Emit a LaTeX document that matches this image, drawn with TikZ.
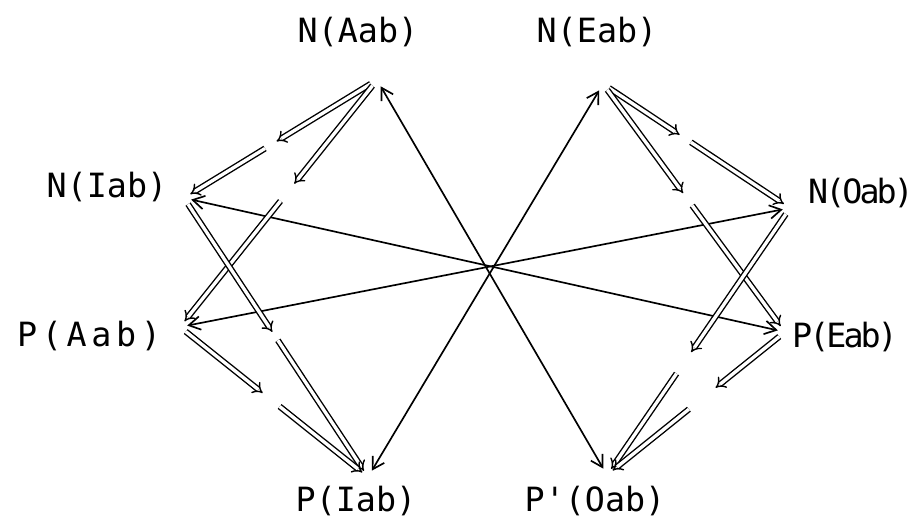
\documentclass[tikz,border=0pt]{standalone}
\usepackage{fontspec}
\newfontfamily\plotfont{DejaVu Sans Mono}
\newfontfamily\plottight[LetterSpace=-9]{DejaVu Sans Mono}
\newfontfamily\plotwide[LetterSpace=14]{DejaVu Sans Mono}
\usepackage{tikz}
\usetikzlibrary{arrows.meta,calc}
\tikzset{
  lbl/.style={inner sep=0pt, font=\plotfont\fontsize{19}{23}\selectfont},
  lbltight/.style={lbl, font=\plottight\fontsize{19}{23}\selectfont},
  lblwide/.style={lbl, font=\plotwide\fontsize{19}{23}\selectfont},
  hub/.style={circle, inner sep=0pt, minimum size=0.28cm},
  contra/.style={{Straight Barb[length=2.3mm,width=2.7mm]}-{Straight Barb[length=2.3mm,width=2.7mm]}, line width=0.95pt},
  impl/.style={-{Implies[scale=1.2]}, double, double distance=1.9pt, line width=0.8pt},
}
% broken double arrow: #1 to #2, cut between fractions #3 and #4
\newcommand{\implarrow}[4]{%
  \draw[impl] (#1) -- ($(#1)!#3!(#2)$);
  \draw[impl] ($(#1)!#4!(#2)$) -- (#2);
}

\begin{document}
\begin{tikzpicture}[x=0.02cm, y=-0.02cm]
    \useasboundingbox (0,0) rectangle (919,519);
    % labels
    \node[lbl] (tnaab) at (358,32) {N(Aab)};
    \node[lbl] (tneab) at (597,32) {N(Eab)};
    \node[lbl] (tniab) at (107,187) {N(Iab)};
    \node[lbltight] (tnoab) at (861,193) {N(Oab)};
    \node[lblwide] (tpaab) at (89,336) {P(Aab)};
    \node[lbltight] (tpeab) at (845,337) {P(Eab)};
    \node[lbl] (tpiab) at (356,501) {P(Iab)};
    \node[lbl] (tpoab) at (595,501) {P'(Oab)};
    % meeting points of the arrows
    \node[hub] (naab) at (377,80) {};
    \node[hub] (neab) at (603,84) {};
    \node[hub] (niab) at (184,198) {};
    \node[hub] (noab) at (790,208) {};
    \node[hub] (paab) at (180,327) {};
    \node[hub] (peab) at (785,332) {};
    \node[hub] (piab) at (368,477) {};
    \node[hub] (poab) at (607,475) {};
    % contradictories
    \draw[contra] (naab) -- (poab);
    \draw[contra] (neab) -- (piab);
    \draw[contra] (niab) -- (peab);
    \draw[contra] (paab) -- (noab);
    % implications
    \implarrow{naab}{niab}{0.52}{0.58}
    \implarrow{naab}{paab}{0.42}{0.49}
    \implarrow{niab}{piab}{0.48}{0.51}
    \implarrow{paab}{piab}{0.44}{0.53}
    \implarrow{neab}{noab}{0.41}{0.47}
    \implarrow{neab}{peab}{0.44}{0.49}
    \implarrow{noab}{poab}{0.54}{0.62}
    \implarrow{peab}{poab}{0.39}{0.54}
\end{tikzpicture}
\end{document}
